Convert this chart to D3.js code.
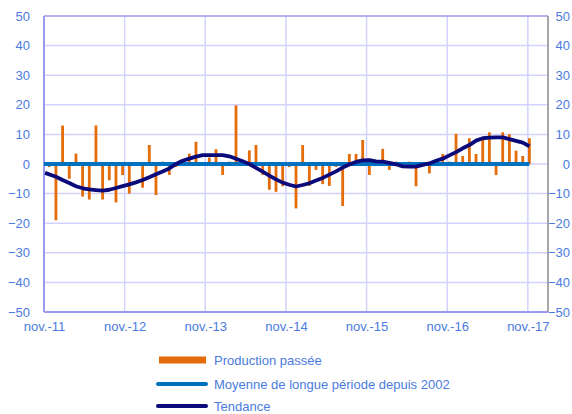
<!DOCTYPE html>
<html><head><meta charset="utf-8">
<script src="https://cdn.jsdelivr.net/npm/d3@7"></script>
<style>body{margin:0;background:#fff}svg{display:block}text{font-family:"Liberation Sans",Arial,sans-serif}</style>
</head><body><svg id="c" width="572" height="414"></svg>
<script>
// Monthly categories nov-11 .. nov-17 (axis extends two empty months to jan-18)
const months = d3.timeMonth.range(new Date(2011,10,1), new Date(2018,1,1));
const xTickLabels = ["nov.-11","nov.-12","nov.-13","nov.-14","nov.-15","nov.-16","nov.-17"];
const yTicks = [-50,-40,-30,-20,-10,0,10,20,30,40,50];
const production = [-1,-19,13,-5,3.5,-11,-12,13,-12,-5.5,-13,-3.7,-10,0,-8,6.4,-10.5,0.8,-3.7,-1,1,3.5,7.5,0,2.2,5,-3.7,0.8,19.8,0,4.6,6.4,-3.7,-8.7,-9.4,-7.5,-1,-15,6.4,-7.4,-2,-6.8,-7.4,-1,-14.2,3.4,3.4,8.1,-3.7,0,5.1,-2,0.8,0,0.8,-7.5,0,-3.2,0,3.4,0.8,10.2,2.7,8.7,3.4,8.3,10.7,-3.7,10.7,10.1,4.5,2.7,8.7];
const tendance = [-3,-4.3,-5.4,-6.4,-7.5,-8.2,-8.6,-8.8,-9,-8.7,-8.1,-7.5,-6.9,-6.2,-5.4,-4.5,-3.5,-2.5,-1.5,0,1.1,1.8,2.5,3,3,3,3,2.6,1.8,0.9,0,-1.3,-2.6,-3.9,-5.2,-6.3,-7,-7.6,-7.1,-6.5,-5.6,-4.7,-3.6,-2.5,-1.2,-0.2,0.7,1.2,1.3,0.9,0.8,0.4,-0.1,-0.8,-0.9,-0.9,-0.3,0.2,1.1,1.8,2.9,4,5.3,6.4,7.9,8.7,8.9,9,9,8.4,7.8,7.2,6];
const moyenne = production.map(()=>0);
const legendLabels = ["Production passée","Moyenne de longue période depuis 2002","Tendance"];

const colBar="#E46C0A", colMean="#0070C0", colTrend="#0A0A7A", colText="#4A7BDE", colGrid="#D2D2FF", colAxis="#9A9AF0";
const svg = d3.select("#c");
const L=44, R=548, T=16, B=312;
const xb = d3.scaleBand().domain(d3.range(months.length)).range([L,R]).padding(0.58);
const xl = d3.scaleLinear().domain([0,months.length]).range([L,R]);
const y = d3.scaleLinear().domain([-50,50]).range([B,T]);
const cx = i => xb(i)+xb.bandwidth()/2;

// horizontal grid
svg.append("g").selectAll("line").data(yTicks.slice(1,-1)).join("line")
  .attr("x1",L).attr("x2",R).attr("y1",d=>y(d)).attr("y2",d=>y(d))
  .attr("stroke",colGrid).attr("stroke-width",1.5);
// vertical grid
const xt = d3.range(0,months.length,12);
svg.append("g").selectAll("line").data(xt.slice(1)).join("line")
  .attr("x1",d=>xl(d)).attr("x2",d=>xl(d)).attr("y1",T).attr("y2",B)
  .attr("stroke",colGrid).attr("stroke-width",1.5);
// frame
svg.append("line").attr("x1",L).attr("x2",R).attr("y1",T).attr("y2",T).attr("stroke",colAxis).attr("stroke-width",1.5);
svg.append("line").attr("x1",L).attr("x2",R).attr("y1",B).attr("y2",B).attr("stroke",colAxis).attr("stroke-width",2);
svg.append("line").attr("x1",L).attr("x2",L).attr("y1",T).attr("y2",B).attr("stroke",colAxis).attr("stroke-width",2);
svg.append("line").attr("x1",R).attr("x2",R).attr("y1",T).attr("y2",B).attr("stroke","#8a8a8a").attr("stroke-width",1.5);

// axes labels
const ax = svg.append("g").attr("transform",`translate(${L},0)`)
  .call(d3.axisLeft(y).tickValues(yTicks).tickSize(0).tickPadding(14));
const ax2 = svg.append("g").attr("transform",`translate(${R},0)`)
  .call(d3.axisRight(y).tickValues(yTicks).tickSize(0).tickPadding(22));
ax2.selectAll("text").attr("text-anchor","end");
const axb = svg.append("g").attr("transform",`translate(0,${B})`)
  .call(d3.axisBottom(xl).tickValues(xt).tickFormat((d,i)=>xTickLabels[i]).tickSize(0).tickPadding(10));
[ax,ax2,axb].forEach(g=>{g.select(".domain").remove();g.selectAll("text").attr("fill",colText).style("font-size","13px").style("font-family","'Liberation Sans',Arial,sans-serif");});

// bars
svg.append("g").selectAll("rect").data(production).join("rect")
  .attr("x",(d,i)=>xb(i)).attr("width",xb.bandwidth())
  .attr("y",d=>y(Math.max(0,d))).attr("height",d=>Math.abs(y(d)-y(0)))
  .attr("fill",colBar);
// mean line
svg.append("path").datum(moyenne)
  .attr("d",d3.line().x((d,i)=>i===0?L:cx(i)).y(d=>y(d)))
  .attr("fill","none").attr("stroke",colMean).attr("stroke-width",4);
// trend
svg.append("path").datum(tendance)
  .attr("d",d3.line().x((d,i)=>i===0?L+1:cx(i)).y(d=>y(d)))
  .attr("fill","none").attr("stroke",colTrend).attr("stroke-width",3.8).attr("stroke-linejoin","round");

// legend
const lg = svg.append("g");
const ly = [360,384,406];
lg.append("rect").attr("x",159).attr("y",ly[0]-3.5).attr("width",47).attr("height",7).attr("fill",colBar);
lg.append("line").attr("x1",158).attr("x2",206).attr("y1",ly[1]).attr("y2",ly[1]).attr("stroke",colMean).attr("stroke-width",4).attr("stroke-linecap","round");
lg.append("line").attr("x1",158).attr("x2",206).attr("y1",ly[2]).attr("y2",ly[2]).attr("stroke",colTrend).attr("stroke-width",4).attr("stroke-linecap","round");
lg.selectAll("text").data(legendLabels).join("text")
  .attr("x",214).attr("y",(d,i)=>ly[i]).attr("dy","0.35em")
  .attr("fill",colText).style("font-size","13px").text(d=>d);
</script></body></html>
